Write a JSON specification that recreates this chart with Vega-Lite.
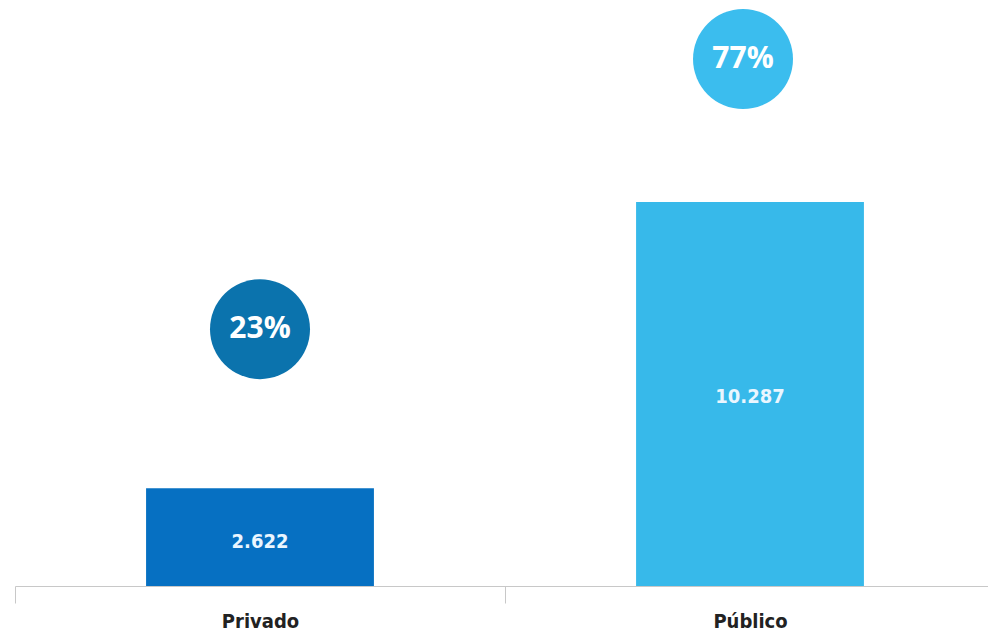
{
  "$schema": "https://vega.github.io/schema/vega-lite/v6.json",
  "width": 980,
  "height": 586,
  "autosize": "none",
  "padding": {"left": 15, "top": 0, "right": 0, "bottom": 48},
  "background": "white",
  "config": {
    "view": {"stroke": null},
    "locale": {"number": {"decimal": ",", "thousands": ".", "grouping": [3], "currency": ["", ""]}}
  },
  "data": {
    "values": [
      {"category": "Privado", "value": 2622, "share": 0.23},
      {"category": "Público", "value": 10287, "share": 0.77}
    ]
  },
  "encoding": {
    "x": {
      "field": "category",
      "type": "nominal",
      "sort": ["Privado", "Público"],
      "scale": {"paddingInner": 0, "paddingOuter": 0},
      "axis": {
        "title": null,
        "labelAngle": 0,
        "tickBand": "extent",
        "domainColor": "#c8c8c8",
        "tickColor": "#c8c8c8",
        "tickSize": 17,
        "labelPadding": 8,
        "labelFont": "DejaVu Sans Condensed",
        "labelFontWeight": "bold",
        "labelFontSize": 20,
        "labelColor": "#222222"
      }
    },
    "y": {
      "field": "value",
      "type": "quantitative",
      "scale": {"domain": [0, 15700], "nice": false},
      "axis": null
    }
  },
  "layer": [
    {
      "mark": {"type": "bar", "width": {"band": 0.465}},
      "encoding": {
        "color": {
          "field": "category",
          "type": "nominal",
          "scale": {"domain": ["Privado", "Público"], "range": ["#0670c2", "#37b9ea"]},
          "legend": null
        }
      }
    },
    {
      "transform": [{"filter": "datum.category === 'Privado'"}],
      "mark": {"type": "point", "shape": "circle", "filled": true, "opacity": 1, "size": 10000, "color": "#0b73ad", "yOffset": -159}
    },
    {
      "transform": [{"filter": "datum.category === 'Público'"}],
      "mark": {"type": "point", "shape": "circle", "filled": true, "opacity": 1, "size": 10000, "color": "#3bbdee", "yOffset": -143, "xOffset": -7}
    },
    {
      "transform": [{"filter": "datum.category === 'Privado'"}],
      "mark": {"type": "text", "font": "Open Sans", "fontWeight": "bold", "fontSize": 30, "color": "white", "baseline": "middle", "align": "center", "yOffset": -159},
      "encoding": {"text": {"field": "share", "type": "quantitative", "format": ".0%"}}
    },
    {
      "transform": [{"filter": "datum.category === 'Público'"}],
      "mark": {"type": "text", "font": "Open Sans", "fontWeight": "bold", "fontSize": 30, "color": "white", "baseline": "middle", "align": "center", "yOffset": -143, "xOffset": -7},
      "encoding": {"text": {"field": "share", "type": "quantitative", "format": ".0%"}}
    },
    {
      "transform": [{"filter": "datum.category === 'Privado'"}],
      "mark": {"type": "text", "font": "DejaVu Sans Condensed", "fontWeight": "bold", "fontSize": 20, "color": "#eaf6ff", "baseline": "middle", "align": "center", "yOffset": 54},
      "encoding": {"text": {"field": "value", "type": "quantitative", "format": ","}}
    },
    {
      "transform": [{"filter": "datum.category === 'Público'"}],
      "mark": {"type": "text", "font": "DejaVu Sans Condensed", "fontWeight": "bold", "fontSize": 20, "color": "#eaf6ff", "baseline": "middle", "align": "center", "yOffset": 195},
      "encoding": {"text": {"field": "value", "type": "quantitative", "format": ","}}
    }
  ]
}
